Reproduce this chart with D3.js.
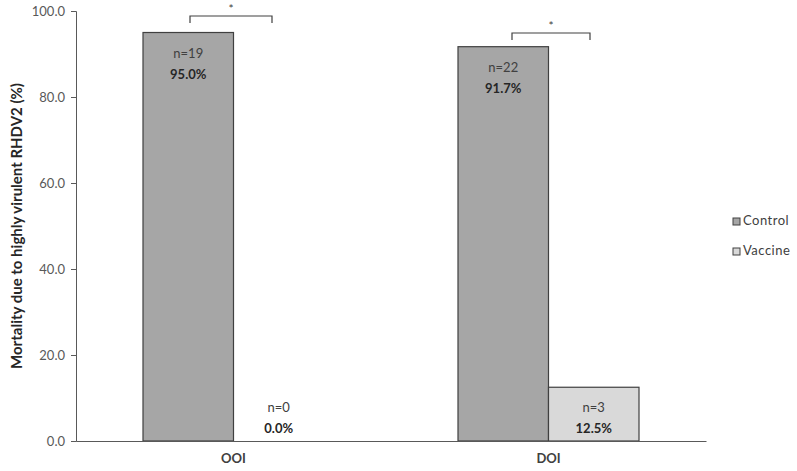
<!DOCTYPE html>
<html>
<head>
<meta charset="utf-8">
<script src="https://cdn.jsdelivr.net/npm/d3@7"></script>
<style>
  body { margin: 0; background: #fff; }
  text { font-family: Lato, "Open Sans", sans-serif; }
</style>
</head>
<body>
<svg id="chart" width="797" height="471"></svg>
<script>
// data
var groups = ["OOI", "DOI"]
var series = ["Control", "Vaccine"]
var controlValues = [95.0, 91.7]
var vaccineValues = [0.0, 12.5]
var controlN = [19, 22]
var vaccineN = [0, 3]
var yTicks = [0, 20, 40, 60, 80, 100]

var svg = d3.select("#chart")

var plotLeft = 76, plotRight = 706, plotTop = 11, plotBottom = 441

var color = d3.scaleOrdinal()
  .domain(series)
  .range(["#a6a6a6", "#d9d9d9"])

var x0 = d3.scaleBand()
  .domain(groups)
  .range([plotLeft, plotRight])
  .paddingInner(0)
  .paddingOuter(0)

var x1 = d3.scaleBand()
  .domain(series)
  .range([x0.bandwidth() / 2 - 90.5, x0.bandwidth() / 2 + 90.5])

var y = d3.scaleLinear()
  .domain([0, 100])
  .range([plotBottom, plotTop])

// build rows for bars
var rows = []
groups.forEach(function(g, i){
  rows.push({group: g, key: "Control", value: controlValues[i], n: controlN[i]})
  rows.push({group: g, key: "Vaccine", value: vaccineValues[i], n: vaccineN[i]})
})

// bars
svg.selectAll("rect.bar")
  .data(rows.filter(function(d){ return d.value > 0 }))
  .enter()
  .append("rect")
    .attr("class", "bar")
    .attr("x", function(d){ return x0(d.group) + x1(d.key) })
    .attr("y", function(d){ return y(d.value) })
    .attr("width", x1.bandwidth())
    .attr("height", function(d){ return y(0) - y(d.value) })
    .style("fill", function(d){ return color(d.key) })
    .style("stroke", "#404040")
    .style("stroke-width", 1.2)

// value labels inside bars
var labelTop = function(d){ return Math.min(y(d.value), y(0) - 54) }
svg.selectAll("text.nlab")
  .data(rows)
  .enter()
  .append("text")
    .attr("x", function(d){ return x0(d.group) + x1(d.key) + x1.bandwidth() / 2 })
    .attr("y", function(d){ return labelTop(d) + 25 })
    .attr("text-anchor", "middle")
    .style("font-size", "13px")
    .style("fill", "#404040")
    .text(function(d){ return "n=" + d.n })

svg.selectAll("text.plab")
  .data(rows)
  .enter()
  .append("text")
    .attr("x", function(d){ return x0(d.group) + x1(d.key) + x1.bandwidth() / 2 })
    .attr("y", function(d){ return labelTop(d) + 46 })
    .attr("text-anchor", "middle")
    .style("font-size", "13px")
    .style("font-weight", "bold")
    .style("fill", "#262626")
    .text(function(d){ return d.value.toFixed(1) + "%" })

// y axis
var yAxis = svg.append("g")
  .attr("transform", "translate(" + plotLeft + ",0)")
  .call(d3.axisLeft(y).tickValues(yTicks).tickSize(5).tickFormat(d3.format(".1f")))
yAxis.select(".domain").attr("stroke", "#595959")
yAxis.selectAll(".tick line").attr("stroke", "#595959")
yAxis.selectAll("text")
  .style("font-size", "13px")
  .style("fill", "#595959")
  .style("font-family", "Lato, sans-serif")
  .attr("x", -11)

// x axis
var xAxis = svg.append("g")
  .attr("transform", "translate(0," + plotBottom + ")")
  .call(d3.axisBottom(x0).tickSize(0).tickPadding(13))
xAxis.select(".domain").attr("stroke", "#595959")
xAxis.selectAll("text")
  .style("font-size", "13px")
  .style("font-weight", "bold")
  .style("fill", "#404040")
  .style("font-family", "Lato, sans-serif")

// y title
svg.append("text")
  .attr("transform", "translate(22," + ((plotTop + plotBottom) / 2) + ") rotate(-90)")
  .attr("text-anchor", "middle")
  .style("font-size", "15px")
  .style("font-weight", "bold")
  .style("fill", "#262626")
  .text("Mortality due to highly virulent RHDV2 (%)")

// significance brackets
var brackets = [
  {group: "OOI", x1: 190, x2: 272, y: 16},
  {group: "DOI", x1: 512, x2: 590, y: 33}
]
brackets.forEach(function(b){
  svg.append("path")
    .attr("d", "M" + b.x1 + "," + (b.y + 7) + "V" + b.y + "H" + b.x2 + "V" + (b.y + 7))
    .style("fill", "none")
    .style("stroke", "#404040")
    .style("stroke-width", 1.2)
  svg.append("text")
    .attr("x", (b.x1 + b.x2) / 2)
    .attr("y", b.y - 3)
    .attr("text-anchor", "middle")
    .style("font-size", "12px")
    .style("fill", "#404040")
    .text("*")
})

// legend
var size = 7
var legend = svg.selectAll("g.leg")
  .data(series)
  .enter()
  .append("g")
    .attr("transform", function(d, i){ return "translate(733," + (218 + i * 30) + ")" })
legend.append("rect")
  .attr("width", size)
  .attr("height", size)
  .style("fill", function(d){ return color(d) })
  .style("stroke", "#404040")
legend.append("text")
  .attr("x", size + 3)
  .attr("y", size / 2)
  .style("dominant-baseline", "middle")
  .style("font-size", "13px")
  .style("letter-spacing", "0.5px")
  .style("fill", "#404040")
  .text(function(d){ return d })
</script>
</body>
</html>
